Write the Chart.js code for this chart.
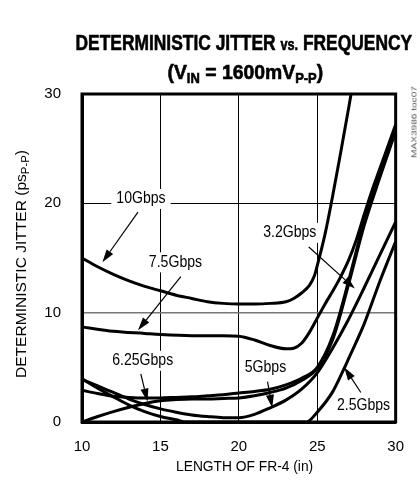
<!DOCTYPE html>
<html>
<head>
<meta charset="utf-8">
<script src="https://cdn.jsdelivr.net/npm/chart.js@4.4.0/dist/chart.umd.min.js"></script>
<style>
body { margin: 0; background: #fff; }
#wrap { position: relative; width: 420px; height: 482px; overflow: hidden; }
#c { position: absolute; left: 0; top: 0; }
.txt { position: absolute; font-family: "Liberation Sans", Arial, sans-serif; color: #000; white-space: nowrap; line-height: 1; }
#t1 { font-size: 22px; font-weight: bold; -webkit-text-stroke: 0.6px #000; }
#t1 .vs { font-size: 16px; }
#t2 { font-size: 21px; font-weight: bold; -webkit-text-stroke: 0.6px #000; }
#t2 sub { font-size: 14px; vertical-align: -4px; line-height: 1; }
#ytitle { font-size: 15px; }
#ytitle sub { font-size: 11px; vertical-align: -3px; line-height: 1; }
#xtitle { font-size: 15px; }
#tag { font-size: 8px; color: #555; }
</style>
</head>
<body>
<div id="wrap">
  <canvas id="c" width="420" height="482"></canvas>
  <div class="txt" id="t1">DETERMINISTIC JITTER <span class="vs">vs.</span> FREQUENCY</div>
  <div class="txt" id="t2">(V<sub>IN</sub> = 1600mV<sub>P-P</sub>)</div>
  <div class="txt" id="ytitle">DETERMINISTIC JITTER (ps<sub>P-P</sub>)</div>
  <div class="txt" id="xtitle">LENGTH OF FR-4 (in)</div>
  <div class="txt" id="tag">MAX3986 toc07</div>
</div>
<script>
// FR-4 length (in) and deterministic jitter (psP-P) per curve
var len10g = [10, 11, 12, 13, 14, 15, 16, 17, 18, 19, 20, 21, 22, 23, 23.5, 24, 24.5, 24.8, 25, 25.5, 26, 26.5, 27, 27.4];
var dj10g  = [15.0, 14.2, 13.5, 12.9, 12.4, 12.0, 11.6, 11.3, 11.0, 10.85, 10.8, 10.8, 10.85, 11.0, 11.3, 11.8, 12.5, 13.3, 14.3, 17.2, 20.8, 24.7, 28.7, 32];

var len75g = [10, 12, 14, 15, 17, 19, 20, 21, 22, 23, 23.5, 24, 24.5, 25, 25.5, 26, 26.5, 27, 27.5, 28, 28.5, 29, 29.5, 30];
var dj75g  = [8.7, 8.3, 8.1, 8.0, 7.9, 7.9, 7.85, 7.5, 7.0, 6.7, 6.75, 7.2, 8.2, 9.5, 10.8, 12.0, 13.3, 14.8, 16.7, 19.0, 21.2, 23.2, 25.2, 27.2];

var len625g = [10, 11, 12, 13, 14, 15, 16, 17, 18, 19, 20, 21, 22, 23, 24, 25, 26, 27, 28, 29, 30];
var dj625g  = [0, 0.5, 0.95, 1.35, 1.7, 1.95, 2.05, 2.1, 2.1, 2.15, 2.2, 2.4, 2.7, 3.1, 3.8, 4.9, 7.6, 12.6, 18.0, 22.4, 26.6];

var len32g = [10, 11, 12, 13, 14, 15, 16, 17, 18, 19, 20, 21, 22, 23, 24, 25, 26, 27, 28, 29, 30];
var dj32g  = [2.9, 2.6, 2.35, 2.25, 2.2, 2.2, 2.25, 2.3, 2.4, 2.5, 2.65, 2.8, 3.0, 3.4, 4.0, 5.0, 7.9, 12.9, 18.4, 22.7, 26.8];

var len5g = [10, 11, 12, 13, 14, 15, 16, 17, 18, 19, 20, 21, 22, 23, 24, 25, 26, 27, 28, 29, 30];
var dj5g  = [3.9, 3.3, 2.7, 2.1, 1.6, 1.2, 0.9, 0.65, 0.5, 0.4, 0.4, 0.7, 1.3, 2.0, 3.0, 4.5, 6.8, 9.4, 12.3, 15.3, 18.3];

var len25g = [10, 11, 12, 13, 14, 15, 16, 16.6, 17, 20, 24.3, 25, 26, 26.7, 27, 28, 29, 30];
var dj25g  = [3.95, 3.1, 2.3, 1.55, 0.95, 0.5, 0.2, 0, 0, 0, 0, 0.9, 2.8, 4.85, 5.8, 9.0, 12.9, 16.5];

var curveLens = [len10g, len75g, len625g, len32g, len5g, len25g];
var curveVals = [dj10g, dj75g, dj625g, dj32g, dj5g, dj25g];

var xTicks = [10, 15, 20, 25, 30];
var yTicks = [0, 10, 20, 30];

// callout text, text centre, arrow start, arrow tip (data units)
var calloutText = ['10Gbps', '7.5Gbps', '3.2Gbps', '6.25Gbps', '5Gbps', '2.5Gbps'];
var calloutPos  = [[13.76, 20.4], [15.96, 14.6], [23.25, 17.3], [13.87, 5.6], [21.7, 5.0], [27.95, 1.5]];
var arrowFrom   = [[13.57, 19.2], [16.3, 13.3], [24.46, 16.0], [13.75, 4.4], [21.83, 3.7], [27.78, 2.7]];
var arrowTo     = [[11.3, 14.6], [13.57, 8.4], [27.4, 12.2], [14.18, 1.87], [22.13, 1.3], [26.72, 5.0]];

var FONT = '"Liberation Sans", Arial, sans-serif';

// squeeze html text to the width used in the original (centre x, centre y, width, rotated?)
function place(id, cx, cy, w, rot) {
    var el = document.getElementById(id);
    var k = w / el.offsetWidth;
    el.style.left = (cx - el.offsetWidth / 2) + 'px';
    el.style.top = (cy - el.offsetHeight / 2) + 'px';
    el.style.transform = (rot ? 'rotate(-90deg) ' : '') + 'scaleX(' + k + ')';
}
place('t1', 243.5, 43, 337);
place('t2', 245, 73, 156);
place('ytitle', 22, 264, 228, true);
place('xtitle', 244.5, 465, 137);
place('tag', 414, 122, 72, true);

var datasets = curveLens.map(function (xs, i) {
    return {
        data: xs.map(function (x, j) { return { x: x, y: curveVals[i][j] }; }),
        borderColor: '#000',
        borderWidth: 3,
        pointRadius: 0,
        fill: false,
        cubicInterpolationMode: 'monotone'
    };
});

var callouts = {
    id: 'callouts',
    beforeDatasetsDraw: function (chart) {
        var ctx = chart.ctx, sx = chart.scales.x, sy = chart.scales.y;
        var k = 0.88;
        ctx.save();
        ctx.font = '16px ' + FONT;
        ctx.textAlign = 'center';
        ctx.textBaseline = 'middle';
        calloutText.forEach(function (t, i) {
            var px = sx.getPixelForValue(calloutPos[i][0]);
            var py = sy.getPixelForValue(calloutPos[i][1]);
            var w = ctx.measureText(t).width * k;
            ctx.fillStyle = '#fff';
            ctx.fillRect(px - w / 2 - 5, py - 10, w + 10, 20);
            ctx.fillStyle = '#000';
            ctx.save();
            ctx.translate(px, py);
            ctx.scale(k, 1);
            ctx.fillText(t, 0, 0);
            ctx.restore();
            var x1 = sx.getPixelForValue(arrowFrom[i][0]), y1 = sy.getPixelForValue(arrowFrom[i][1]);
            var x2 = sx.getPixelForValue(arrowTo[i][0]), y2 = sy.getPixelForValue(arrowTo[i][1]);
            var a = Math.atan2(y2 - y1, x2 - x1), hl = 13, hw = 4;
            var bx = x2 - hl * Math.cos(a), by = y2 - hl * Math.sin(a);
            ctx.strokeStyle = '#000';
            ctx.lineWidth = 1.2;
            ctx.beginPath();
            ctx.moveTo(x1, y1);
            ctx.lineTo(bx, by);
            ctx.stroke();
            ctx.beginPath();
            ctx.moveTo(x2, y2);
            ctx.lineTo(bx + hw * Math.sin(a), by - hw * Math.cos(a));
            ctx.lineTo(bx - hw * Math.sin(a), by + hw * Math.cos(a));
            ctx.closePath();
            ctx.fill();
        });
        ctx.restore();
    },
    afterDraw: function (chart) {
        var a = chart.chartArea, ctx = chart.ctx;
        ctx.save();
        ctx.strokeStyle = '#000';
        ctx.lineWidth = 3;
        ctx.strokeRect(a.left, a.top, a.right - a.left, a.bottom - a.top);
        ctx.restore();
    }
};

new Chart(document.getElementById('c').getContext('2d'), {
    type: 'line',
    data: { datasets: datasets },
    options: {
        responsive: false,
        animation: false,
        layout: { padding: { left: 0, right: 12, top: 94, bottom: 0 } },
        plugins: { legend: { display: false }, tooltip: { enabled: false } },
        scales: {
            x: {
                type: 'linear', min: 10, max: 30,
                afterBuildTicks: function (s) { s.ticks = xTicks.map(function (v) { return { value: v }; }); },
                afterFit: function (s) { s.height = 60; },
                ticks: { color: '#000', padding: 16, font: { family: FONT, size: 15 } },
                grid: { color: '#000', lineWidth: 1, drawTicks: false },
                border: { color: '#000', width: 3 }
            },
            y: {
                min: 0, max: 30,
                afterBuildTicks: function (s) { s.ticks = yTicks.map(function (v) { return { value: v }; }); },
                afterFit: function (s) { s.width = 82; },
                ticks: { color: '#000', padding: 21, font: { family: FONT, size: 15 } },
                grid: {
                    color: function (c) { return c.tick && c.tick.value === 10 ? '#777' : '#000'; },
                    lineWidth: function (c) { return c.tick && c.tick.value === 10 ? 1.6 : 1; },
                    drawTicks: false
                },
                border: { color: '#000', width: 3 }
            }
        }
    },
    plugins: [callouts]
});
</script>
</body>
</html>
